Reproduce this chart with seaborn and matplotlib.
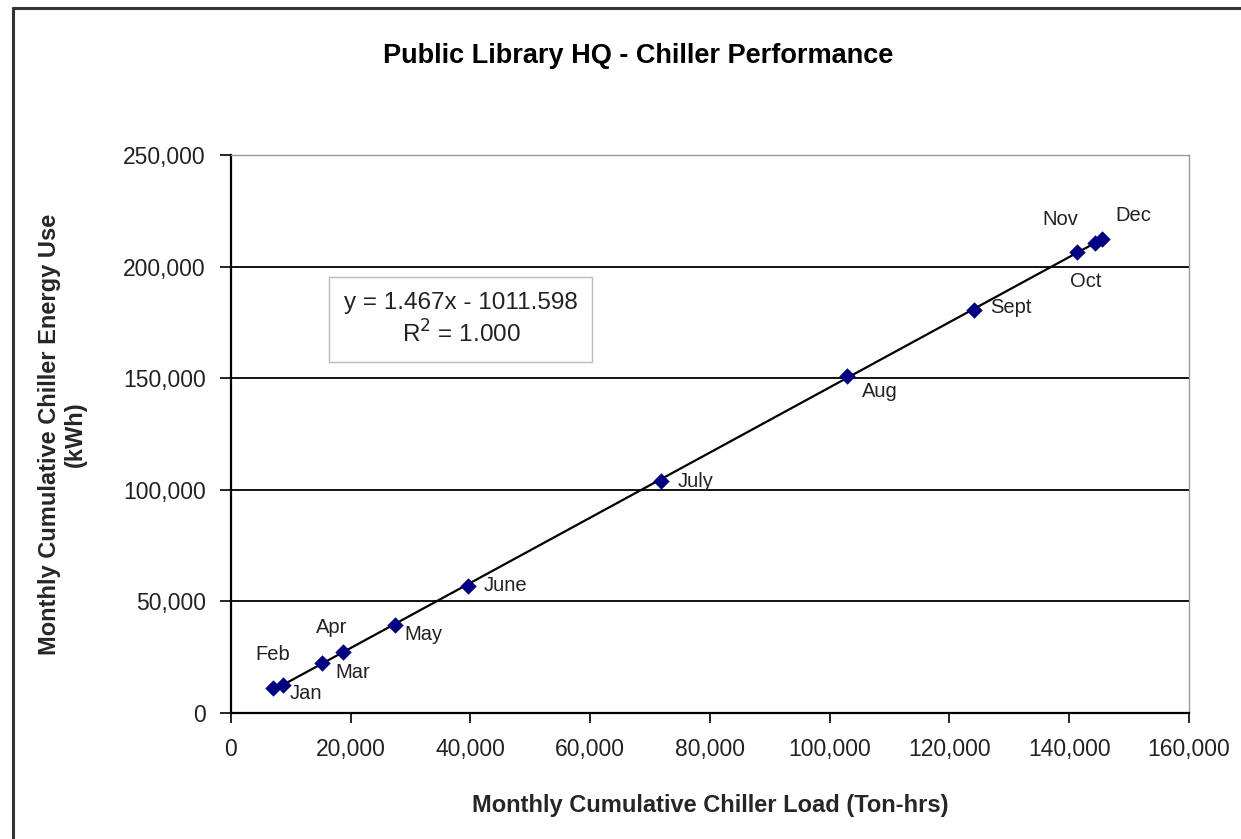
import numpy as np
import pandas as pd
import matplotlib
matplotlib.use("Agg")
import matplotlib.pyplot as plt
from matplotlib.lines import Line2D
from matplotlib.ticker import FuncFormatter, MultipleLocator
import seaborn as sns

# Datos
meses = ['Feb', 'Jan', 'Mar', 'Apr', 'May', 'June', 'July', 'Aug', 'Sept', 'Oct', 'Nov', 'Dec']
carga_ton_hrs = [7000, 8700, 15200, 18700, 27400, 39600, 71800, 102900, 124100, 141300, 144300, 145500]
energia_kwh = [11200, 12500, 22400, 27300, 39400, 56900, 103900, 151000, 180600, 206500, 210600, 212400]

# Desplazamiento de etiquetas (puntos) y alineacion
desplaz_x = [0, 5, 9.5, -8, 6.5, 11.5, 12, 11, 11.5, 6.5, -25, 9.5]
desplaz_y = [24, -6, -7, 18, -6.5, 0, 0, -11.5, 1.5, -21.5, 16.5, 17]
alineacion = ['center', 'left', 'left', 'center', 'left', 'left', 'left', 'left', 'left',
              'center', 'center', 'left']


def configurar_estilos():
    sns.set_theme(style='white')
    plt.rcParams['font.family'] = ['Liberation Sans', 'DejaVu Sans']
    plt.rcParams['text.color'] = 'black'


def main():
    configurar_estilos()
    df = pd.DataFrame({'mes': meses, 'carga': carga_ton_hrs, 'energia': energia_kwh})

    fig = plt.figure(figsize=(12.41, 8.39), dpi=100)
    ax = fig.add_axes([0.1861, 0.1502, 0.772, 0.6651])

    sns.regplot(data=df, x='carga', y='energia', ax=ax, ci=None, truncate=True,
                marker='D', scatter_kws={'s': 70, 'color': '#000080', 'alpha': 1,
                                         'zorder': 4, 'linewidths': 0},
                line_kws={'color': 'black', 'linewidth': 1.6, 'zorder': 3})

    for mes, x, y, dx, dy, ha in zip(meses, carga_ton_hrs, energia_kwh,
                                     desplaz_x, desplaz_y, alineacion):
        ax.annotate(mes, (x, y), xytext=(dx, dy), textcoords='offset points',
                    ha=ha, va='center', fontsize=14.5, color='#222222')

    ax.set_xlim(0, 160000)
    ax.set_ylim(0, 250000)
    ax.xaxis.set_major_locator(MultipleLocator(20000))
    ax.yaxis.set_major_locator(MultipleLocator(50000))
    fmt = FuncFormatter(lambda v, p: f'{int(v):,}')
    ax.xaxis.set_major_formatter(fmt)
    ax.yaxis.set_major_formatter(fmt)
    ax.tick_params(axis='x', direction='out', length=7, width=1.2, colors='black',
                   labelsize=16.5, pad=11, labelcolor='#222222')
    ax.tick_params(axis='y', direction='out', length=8, width=1.2, colors='black',
                   labelsize=16.5, pad=10, labelcolor='#222222')
    ax.xaxis.set_ticks_position('bottom')
    ax.yaxis.set_ticks_position('left')
    ax.grid(axis='y', color='black', linewidth=1.3)
    ax.set_axisbelow(True)
    for lado in ['left', 'bottom']:
        ax.spines[lado].set_color('black')
        ax.spines[lado].set_linewidth(1.6)
    for lado in ['top', 'right']:
        ax.spines[lado].set_color('#999999')
        ax.spines[lado].set_linewidth(1.0)

    ax.set_xlabel('Monthly Cumulative Chiller Load (Ton-hrs)', fontsize=17,
                  fontweight='bold', labelpad=24)
    ax.set_ylabel('Monthly Cumulative Chiller Energy Use\n(kWh)', fontsize=17,
                  fontweight='bold', labelpad=26, linespacing=1.15)

    ax.text(0.24, 0.705, 'y = 1.467x - 1011.598\nR$^2$ = 1.000', transform=ax.transAxes,
            ha='center', va='center', fontsize=17.5, color='#222222', linespacing=1.3,
            bbox=dict(boxstyle='square,pad=0.6', facecolor='white', edgecolor='#bbbbbb'))

    fig.suptitle('Public Library HQ - Chiller Performance', x=0.514, y=0.949,
                 fontsize=19.5, fontweight='bold')

    # marco exterior del grafico
    fig.add_artist(Line2D([0.0105, 0.0105], [0.0, 0.9905], color='#333333', linewidth=2.2))
    fig.add_artist(Line2D([0.0105, 1.0], [0.9905, 0.9905], color='#333333', linewidth=2.2))

    fig.savefig('out.png', dpi=100)


if __name__ == "__main__":
    main()
